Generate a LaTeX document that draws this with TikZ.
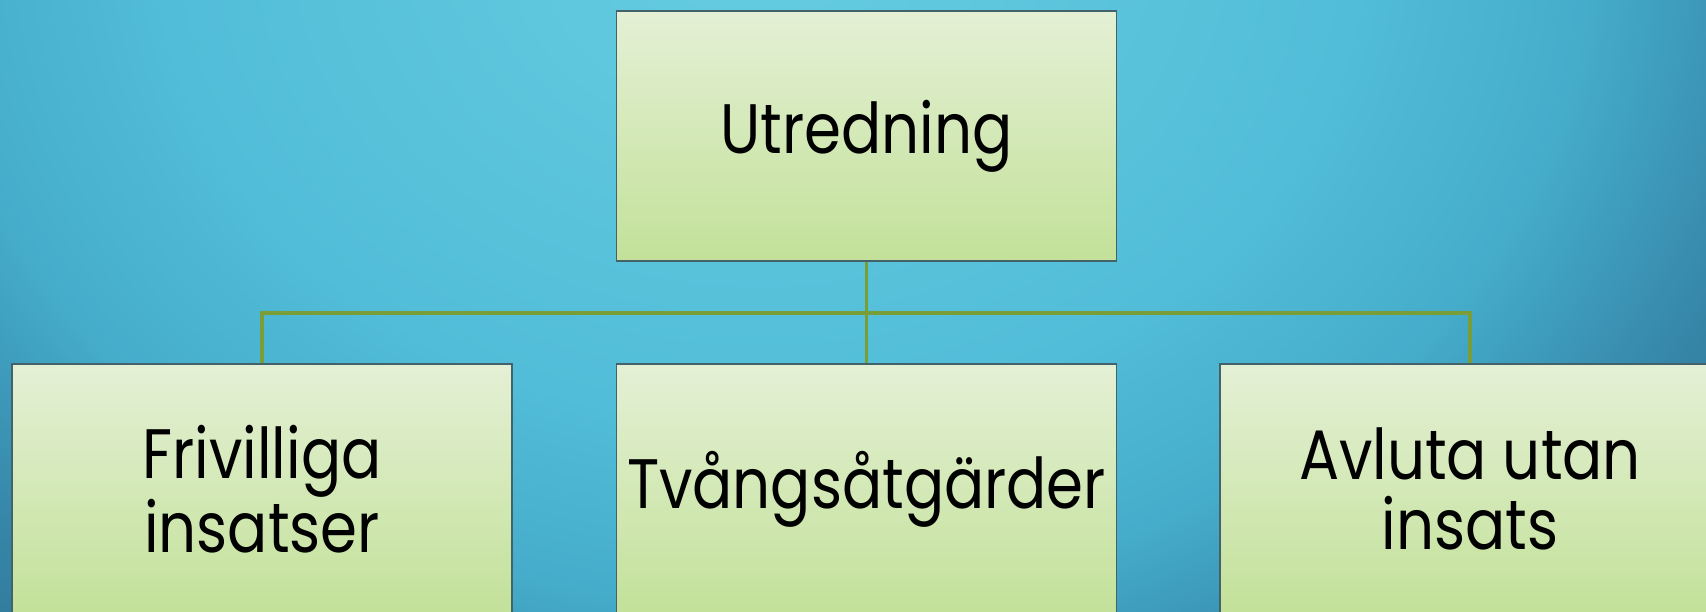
\documentclass[tikz,border=0pt]{standalone}
\usepackage{fontspec}
\setmainfont[FakeStretch=0.85]{Poppins}
\definecolor{bgA}{HTML}{66CDE1}
\definecolor{bgB}{HTML}{52BDD8}
\definecolor{bgC}{HTML}{45ADCB}
\definecolor{bgD}{HTML}{3686A8}
\definecolor{bgE}{HTML}{2B7192}
\definecolor{boxtop}{HTML}{E4F0D5}
\definecolor{boxbot}{HTML}{C3E199}
\definecolor{boxline}{HTML}{44626A}
\definecolor{conn}{HTML}{7A9E37}
\pgfdeclareradialshading{bgshade}{\pgfpoint{0bp}{0bp}}{color(0bp)=(bgA); color(12bp)=(bgB); color(16.5bp)=(bgC); color(21bp)=(bgD); color(25bp)=(bgE); color(50bp)=(bgE)}
\tikzset{
  orgbox/.style={draw=boxline, line width=0.7pt, top color=boxtop, bottom color=boxbot,
    minimum width=250pt, minimum height=125pt, inner sep=0pt, align=center,
    font=\fontsize{35}{35}\selectfont, text=black},
  link/.style={draw=conn, line width=1.6pt}
}
\begin{document}
\begin{tikzpicture}[x=0.5pt, y=-0.5pt]
\useasboundingbox (0,0) rectangle (1706,611);
\clip (0,0) rectangle (1706,611);
\shade[shading=bgshade] (760,-60) ellipse (1250 and 1000);
\node[orgbox] (top) at (866.5,136) {Utredning};
\node[orgbox] (left) at (262,489) {Frivilliga\\insatser};
\node[orgbox] (mid) at (866.5,489) {Tvångsåtgärder};
\node[orgbox] (right) at (1470,489) {Avluta utan\\insats};
\coordinate (bus) at (866.5,313);
\draw[link] (top.south) -- (bus);
\draw[link] (bus) -| (left.north);
\draw[link] (bus) -| (right.north);
\draw[link] (bus) -- (mid.north);
\end{tikzpicture}
\end{document}
